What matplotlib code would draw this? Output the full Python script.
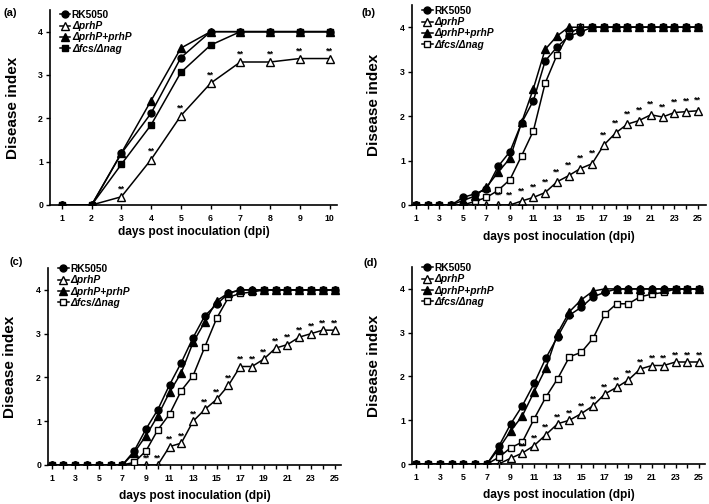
import matplotlib
matplotlib.use("Agg")
import matplotlib.pyplot as plt

plt.rcParams['font.family'] = ['Liberation Sans', 'DejaVu Sans']
plt.rcParams['font.weight'] = 'bold'

# series names as in the legend
names = ["RK5050", "\u0394prhP", "\u0394prhP+prhP", "\u0394fcs/\u0394nag"]

# panel (a): 10 days
days_a = [1, 2, 3, 4, 5, 6, 7, 8, 9, 10]
a_rk = [0, 0, 1.19, 2.12, 3.40, 4, 4, 4, 4, 4]
a_prhp = [0, 0, 0.19, 1.05, 2.06, 2.81, 3.30, 3.30, 3.38, 3.38]
a_comp = [0, 0, 1.20, 2.41, 3.62, 4, 4, 4, 4, 4]
a_fcs = [0, 0, 0.94, 1.85, 3.06, 3.69, 4, 4, 4, 4]
a_sig = [3, 4, 5, 6, 7, 8, 9, 10]

# panels (b)-(d): 25 days
days_long = list(range(1, 26))
b_rk = [0, 0, 0, 0, 0.17, 0.25, 0.36, 0.87, 1.20, 1.85, 2.35, 3.24, 3.55, 3.80, 3.89,
        4, 4, 4, 4, 4, 4, 4, 4, 4, 4]
b_prhp = [0, 0, 0, 0, 0, 0, 0, 0, 0, 0.09, 0.17, 0.28, 0.52, 0.66, 0.82, 0.93, 1.35,
          1.62, 1.82, 1.90, 2.03, 1.98, 2.08, 2.10, 2.12]
b_comp = [0, 0, 0, 0, 0.10, 0.20, 0.40, 0.74, 1.05, 1.86, 2.62, 3.50, 3.80, 4.0,
          4, 4, 4, 4, 4, 4, 4, 4, 4, 4, 4]
b_fcs = [0, 0, 0, 0, 0, 0.08, 0.17, 0.33, 0.57, 1.11, 1.67, 2.74, 3.37, 3.85, 4.0,
         4, 4, 4, 4, 4, 4, 4, 4, 4, 4]
b_sig = [8, 9, 10, 11, 12, 13, 14, 15, 16, 17, 18, 19, 20, 21, 22, 23, 24, 25]

c_rk = [0, 0, 0, 0, 0, 0, 0, 0.32, 0.82, 1.26, 1.83, 2.34, 2.91, 3.41, 3.67, 3.92, 4.0,
        4, 4, 4, 4, 4, 4, 4, 4]
c_prhp = [0, 0, 0, 0, 0, 0, 0, 0, 0, 0, 0.42, 0.50, 1.00, 1.27, 1.50, 1.82, 2.25, 2.25,
          2.42, 2.67, 2.75, 2.92, 3.00, 3.08, 3.08]
c_comp = [0, 0, 0, 0, 0, 0, 0, 0.28, 0.67, 1.12, 1.66, 2.11, 2.80, 3.27, 3.75, 3.93,
          4, 4, 4, 4, 4, 4, 4, 4, 4]
c_fcs = [0, 0, 0, 0, 0, 0, 0, 0.06, 0.32, 0.80, 1.16, 1.70, 2.04, 2.70, 3.35, 3.83, 3.92,
         3.95, 4, 4, 4, 4, 4, 4, 4]
c_sig = [9, 10, 11, 12, 13, 14, 15, 16, 17, 18, 19, 20, 21, 22, 23, 24, 25]

d_rk = [0, 0, 0, 0, 0, 0, 0, 0.40, 0.91, 1.33, 1.84, 2.42, 2.91, 3.40, 3.58, 3.82, 3.92,
        4.0, 4, 4, 4, 4, 4, 4, 4]
d_prhp = [0, 0, 0, 0, 0, 0, 0, 0, 0.13, 0.25, 0.42, 0.67, 0.92, 1.00, 1.15, 1.33, 1.60,
          1.75, 1.92, 2.17, 2.25, 2.25, 2.33, 2.33, 2.33]
d_comp = [0, 0, 0, 0, 0, 0, 0, 0.35, 0.75, 1.10, 1.65, 2.19, 2.99, 3.48, 3.75, 3.95, 4.0,
          4, 4, 4, 4, 4, 4, 4, 4]
d_fcs = [0, 0, 0, 0, 0, 0, 0, 0.15, 0.37, 0.50, 1.03, 1.53, 1.95, 2.45, 2.55, 2.87, 3.42,
         3.66, 3.66, 3.82, 3.88, 3.92, 4.0, 4.0, 4.0]
d_sig = [10, 11, 12, 13, 14, 15, 16, 17, 18, 19, 20, 21, 22, 23, 24, 25]

panels = [
    ("(a)", days_a, a_rk, a_prhp, a_comp, a_fcs, a_sig, True),
    ("(b)", days_long, b_rk, b_prhp, b_comp, b_fcs, b_sig, False),
    ("(c)", days_long, c_rk, c_prhp, c_comp, c_fcs, c_sig, False),
    ("(d)", days_long, d_rk, d_prhp, d_comp, d_fcs, d_sig, False),
]

# axes boxes in pixels (left, top, right, bottom) measured on 709x504
W, H = 709, 504
boxes = [(50, 10, 337, 205), (412, 5, 706, 205), (48, 268, 341, 465), (412, 267, 705, 464)]
xlims = [(0.6, 10.25), (0.66, 25.7), (0.69, 25.55), (0.64, 25.5)]
star_off = [0.08, 0.13, 0.06, 0.06]
leg_top = [1.0, 0.995, 1.02, 1.02]
xlab_y = [-0.11, -0.13, -0.125, -0.125]
letter_pos = [(4, 13), (362, 13), (10, 262), (364, 263)]

fig = plt.figure(figsize=(7.09, 5.04), dpi=100)

for n, (lab, days, rk, prhp, comp, fcs, sig, filled_sq) in enumerate(panels):
    l, t, r, b = boxes[n]
    ax = fig.add_axes([l / W, 1 - b / H, (r - l) / W, (b - t) / H])
    lw = 1.1
    h2, = ax.plot(days, prhp, color='black', lw=lw, marker='^', ms=5.5,
                  mfc='white', mec='black', mew=1.0, zorder=2)
    h4, = ax.plot(days, fcs, color='black', lw=lw, marker='s', ms=5,
                  mfc='black' if filled_sq else 'white', mec='black', mew=1.0, zorder=3)
    h1, = ax.plot(days, rk, color='black', lw=lw, marker='o', ms=5,
                  mfc='black', mec='black', zorder=4)
    h3, = ax.plot(days, comp, color='black', lw=lw, marker='^', ms=5.5,
                  mfc='black', mec='black', zorder=5)

    # significance marks above the prhP mutant
    for d in sig:
        ax.text(d, prhp[days.index(d)] + star_off[n], "**", fontsize=6.5,
                fontweight='bold', ha='center', va='bottom', zorder=6)

    ax.set_xlim(*xlims[n])
    ax.set_ylim(0, 4.5)
    ax.set_yticks([0, 1, 2, 3, 4])
    ax.set_xticks(days)
    if len(days) > 10:
        ax.set_xticklabels([str(d) if d % 2 == 1 else "" for d in days])
    for s in ['top', 'right']:
        ax.spines[s].set_visible(False)
    for s in ['left', 'bottom']:
        ax.spines[s].set_linewidth(1.2)
    ax.tick_params(axis='both', direction='out', length=3, width=1.0,
                   labelsize=6.3, pad=2)
    ax.tick_params(axis='x', pad=3.5)
    for tl in ax.get_xticklabels() + ax.get_yticklabels():
        tl.set_fontweight('bold')

    ax.set_ylabel("Disease index", fontsize=11, fontweight='bold')
    ax.yaxis.set_label_coords(-0.105, 0.5)
    ax.set_xlabel("days post inoculation (dpi)", fontsize=8.6, fontweight='bold')
    ax.xaxis.set_label_coords(0.5, xlab_y[n])

    leg = ax.legend([h1, h2, h3, h4], names, loc='upper left',
                    bbox_to_anchor=(0.035, leg_top[n]), frameon=False, borderpad=0,
                    borderaxespad=0, fontsize=7.4, handlelength=1.0,
                    handletextpad=0.15, labelspacing=0.12)
    for i, tx in enumerate(leg.get_texts()):
        tx.set_fontweight('bold')
        if i > 0:
            tx.set_fontstyle('italic')

    fig.text(letter_pos[n][0] / W, 1 - letter_pos[n][1] / H, lab, fontsize=8,
             fontweight='bold', ha='left', va='center')

fig.savefig("out.png", dpi=100)
